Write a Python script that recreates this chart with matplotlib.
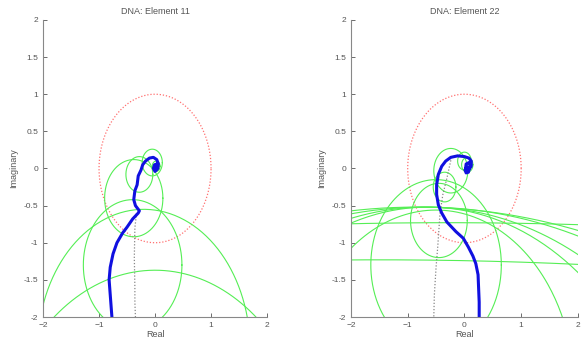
import numpy as np
import matplotlib
matplotlib.use("Agg")
import matplotlib.pyplot as plt

plt.rcParams['font.family'] = ['Liberation Sans', 'DejaVu Sans']

titles = ["DNA: Element 11", "DNA: Element 22"]

# Diagonal Nyquist locus (blue)
locus11_x = [-0.77, -0.79, -0.82, -0.80, -0.75, -0.68, -0.58, -0.50, -0.40, -0.30, -0.28,
             -0.35, -0.38, -0.36, -0.32, -0.30, -0.25, -0.22, -0.17, -0.10, -0.03, 0.03,
             0.06, 0.05, 0.00, -0.03, -0.01, 0.03, 0.04, 0.02, 0.01]
locus11_y = [-2.00, -1.80, -1.50, -1.33, -1.15, -1.00, -0.87, -0.79, -0.68, -0.60, -0.57,
             -0.50, -0.42, -0.30, -0.22, -0.10, -0.02, 0.05, 0.10, 0.14, 0.15, 0.12,
             0.06, 0.00, -0.04, 0.00, 0.05, 0.06, 0.02, -0.01, 0.01]
locus22_x = [0.26, 0.26, 0.24, 0.20, 0.15, 0.07, -0.02, -0.15, -0.31, -0.40, -0.46, -0.49,
             -0.49, -0.46, -0.40, -0.33, -0.24, -0.12, 0.00, 0.08, 0.12, 0.12, 0.07, 0.02,
             0.03, 0.08, 0.10, 0.07, 0.03, 0.01, 0.04]
locus22_y = [-2.00, -1.80, -1.43, -1.28, -1.18, -1.06, -0.94, -0.85, -0.72, -0.60, -0.49,
             -0.35, -0.22, -0.08, 0.03, 0.10, 0.15, 0.17, 0.16, 0.14, 0.10, 0.03, -0.02,
             0.00, 0.06, 0.08, 0.03, -0.05, -0.06, -0.02, 0.02]

# Black dotted locus
dot11_x = [-0.33, -0.36, -0.37, -0.36, -0.36, -0.35]
dot11_y = [-0.60, -0.80, -1.20, -1.60, -1.80, -2.00]
dot22_x = [-0.24, -0.30, -0.38, -0.43, -0.47, -0.50, -0.53, -0.54]
dot22_y = [0.11, -0.10, -0.35, -0.60, -1.05, -1.33, -1.70, -2.00]

# Gershgorin circles: centre x, centre y, radius
circ11_cx = [0.02, -0.05, -0.28, -0.38, -0.40, -0.20, 0.00]
circ11_cy = [0.03, 0.08, -0.08, -0.40, -1.30, -2.45, -4.26]
circ11_r = [0.07, 0.18, 0.24, 0.52, 0.88, 1.90, 2.89]

circ22_cx = [0.05, 0.00, -0.24, -0.35, -0.45, -0.50, -0.50, -0.85, -0.69, -0.67, -0.64, -1.50, -0.30]
circ22_cy = [0.05, 0.10, -0.03, -0.25, -0.70, -1.30, -3.00, -13.62, -10.02, -6.42, -4.92, -101.23, -100.73]
circ22_r = [0.10, 0.12, 0.30, 0.20, 0.50, 1.15, 2.44, 13.10, 9.50, 5.90, 4.40, 100.0, 100.0]

xticks = [-2, -1, 0, 1, 2]
yticks = [-2, -1.5, -1, -0.5, 0, 0.5, 1, 1.5, 2]
ytick_labels = ["-2", "-1.5", "-1", "-0.5", "0", "0.5", "1", "1.5", "2"]

fig = plt.figure(figsize=(5.82, 3.43), dpi=100)
axes_pos = [[0.0739, 0.0758, 0.385, 0.866], [0.603, 0.0758, 0.39, 0.866]]

data = [
    (locus11_x, locus11_y, dot11_x, dot11_y, circ11_cx, circ11_cy, circ11_r),
    (locus22_x, locus22_y, dot22_x, dot22_y, circ22_cx, circ22_cy, circ22_r),
]

for k in range(2):
    lx, ly, dx, dy, cxs, cys, rs = data[k]
    ax = fig.add_axes(axes_pos[k])
    # unit circle
    t = np.linspace(0, 2 * np.pi, 400)
    ax.plot(np.cos(t), np.sin(t), color='#ff7070', linestyle=(0, (1, 1.5)), lw=0.9)
    # Gershgorin circles
    for cx, cy, r in zip(cxs, cys, rs):
        n = 400 if r < 5 else 200000
        th = np.linspace(0, 2 * np.pi, n)
        xs = cx + r * np.cos(th)
        ys = cy + r * np.sin(th)
        m = (xs > -2.3) & (xs < 2.3) & (ys > -2.3) & (ys < 2.3)
        xs = np.where(m, xs, np.nan)
        ys = np.where(m, ys, np.nan)
        ax.plot(xs, ys, color='#55ee55', lw=0.8)
    ax.plot(dx, dy, color='#888888', linestyle=(0, (1, 1.5)), lw=0.9)
    ax.plot(lx, ly, color='#1010e0', lw=2.2, solid_joinstyle='round')
    ax.set_xlim(-2, 2)
    ax.set_ylim(-2, 2)
    ax.set_xticks(xticks)
    ax.set_yticks(yticks)
    ax.set_yticklabels(ytick_labels)
    ax.tick_params(direction='in', length=3, labelsize=6, colors='#555555', width=0.6)
    for s in ['top', 'right']:
        ax.spines[s].set_visible(False)
    for s in ['left', 'bottom']:
        ax.spines[s].set_color('#888888')
        ax.spines[s].set_linewidth(0.8)
    ax.set_title(titles[k], fontsize=6.5, color='#555555', pad=4)
    ax.set_xlabel("Real", fontsize=6.5, color='#555555', labelpad=1)
    ax.set_ylabel("Imaginary", fontsize=6.5, color='#555555', labelpad=4)

fig.savefig("out.png", dpi=100)
